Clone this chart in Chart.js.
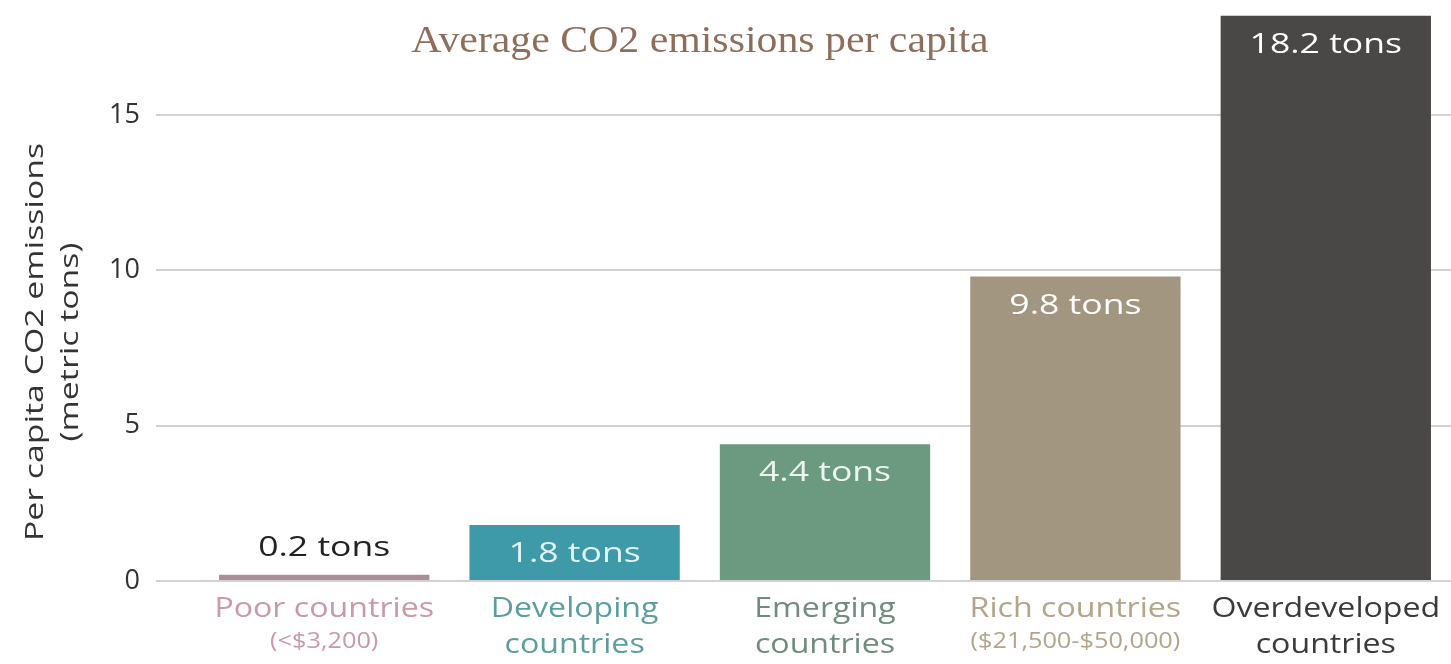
<!DOCTYPE html>
<html>
<head>
<meta charset="utf-8">
<script src="https://cdn.jsdelivr.net/npm/chart.js@4.4.1/dist/chart.umd.min.js"></script>
<style>
  html, body { margin:0; padding:0; background:#fff; }
  #wrap { width:1451px; height:664px; position:relative; }
</style>
</head>
<body>
<div id="wrap"><canvas id="c" width="1451" height="664"></canvas></div>
<script>
// data
const categories = ['Poor countries', 'Developing countries', 'Emerging countries', 'Rich countries', 'Overdeveloped countries'];
const labelLine1 = ['Poor countries', 'Developing', 'Emerging', 'Rich countries', 'Overdeveloped'];
const labelLine2 = ['(<$3,200)', 'countries', 'countries', '($21,500-$50,000)', 'countries'];
const emissions  = [0.2, 1.8, 4.4, 9.8, 18.2];
const valueText  = ['0.2 tons', '1.8 tons', '4.4 tons', '9.8 tons', '18.2 tons'];
const yTicks     = [0, 5, 10, 15];
const yTitle     = ['Per capita CO2 emissions', '(metric tons)'];

const BAR_COL   = ['#aa8d96', '#3e9aa8', '#6b9a80', '#a29680', '#4a4846'];
const LABEL_COL = ['#c99aa5', '#5c9e9e', '#6f8c7e', '#b3a48a', '#3a3a3a'];
const TXT_COL   = ['#222222', '#e2f4f4', '#eef5ef', '#ffffff', '#ffffff'];
const FONT = '"Open Sans", "Noto Sans", sans-serif';

// teks melebar sedikit seperti di gambar asli
function wideText(ctx, txt, x, y, sx, rot) {
  ctx.save();
  ctx.translate(x, y);
  if (rot) ctx.rotate(rot);
  ctx.scale(sx, 1);
  ctx.fillText(txt, 0, 0);
  ctx.restore();
}

// judul + judul sumbu y + label nilai + label kategori
const overlay = {
  id: 'overlay',
  afterDraw(chart) {
    const ctx = chart.ctx;
    const meta = chart.getDatasetMeta(0);
    const x = chart.scales.x;
    ctx.save();
    ctx.textAlign = 'center';
    ctx.textBaseline = 'middle';

    ctx.font = '38px "Liberation Serif", "DejaVu Serif", serif';
    ctx.fillStyle = '#8e6e5a';
    wideText(ctx, 'Average CO2 emissions per capita', 700, 42, 1.1);

    ctx.font = '26px ' + FONT;
    ctx.fillStyle = '#333';
    wideText(ctx, yTitle[0], 36, 342, 1.3, -Math.PI / 2);
    wideText(ctx, yTitle[1], 71, 342, 1.3, -Math.PI / 2);

    ctx.font = '28px ' + FONT;
    meta.data.forEach((bar, i) => {
      ctx.fillStyle = TXT_COL[i];
      const y = i === 0 ? bar.y - 27 : bar.y + 29;
      wideText(ctx, valueText[i], bar.x, y, 1.27);
    });

    categories.forEach((_, i) => {
      const px = x.getPixelForTick(i);
      ctx.fillStyle = LABEL_COL[i];
      ctx.font = '27px ' + FONT;
      wideText(ctx, labelLine1[i], px, 609, 1.19);
      const small = labelLine2[i].startsWith('(');
      ctx.font = (small ? '22px ' : '27px ') + FONT;
      wideText(ctx, labelLine2[i], px, small ? 642 : 645, small ? 1.15 : 1.19);
    });
    ctx.restore();
  }
};

new Chart(document.getElementById('c'), {
  type: 'bar',
  data: {
    labels: categories,
    datasets: [{ data: emissions, backgroundColor: BAR_COL, borderWidth: 0,
      barPercentage: 0.84, categoryPercentage: 1 }]
  },
  options: {
    responsive: false, animation: false,
    layout: { padding: { top: 11, right: 0, left: 0, bottom: 0 } },
    plugins: { legend: { display: false }, tooltip: { enabled: false } },
    scales: {
      x: {
        grid: { display: false },
        border: { display: false },
        ticks: { display: false },
        afterFit: s => { s.height = 83; }
      },
      y: {
        min: 0, max: 18.35,
        afterBuildTicks: s => { s.ticks = yTicks.map(v => ({ value: v })); },
        afterFit: s => { s.width = 199; s.paddingTop = 0; s.paddingBottom = 0; },
        border: { display: false },
        grid: { color: '#d2d2d2', lineWidth: 2, drawTicks: true, tickLength: 43 },
        ticks: { padding: 16, color: '#333', font: { family: FONT, size: 27 } }
      }
    }
  },
  plugins: [overlay]
});
</script>
</body>
</html>
